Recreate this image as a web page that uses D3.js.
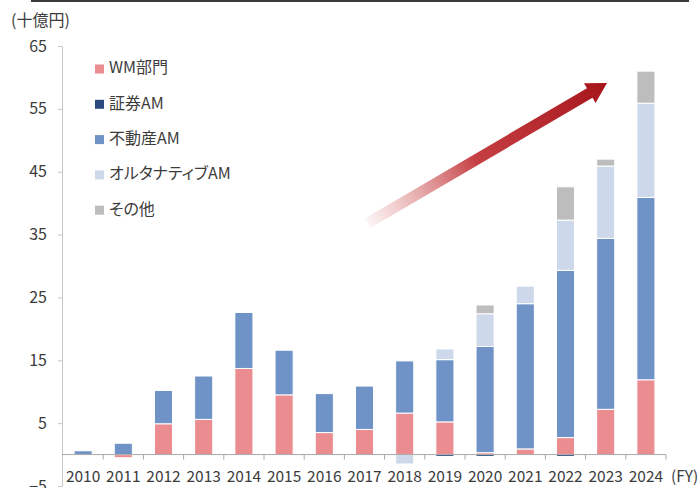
<!DOCTYPE html>
<html><head><meta charset="utf-8">
<script src="https://cdn.jsdelivr.net/npm/d3@7/dist/d3.min.js"></script>
<style>
html,body{margin:0;padding:0;background:#fff;}
svg{display:block;font-family:"Noto Sans CJK JP","Noto Sans",sans-serif;}
.palt{font-feature-settings:"palt" 1;}
</style></head>
<body><svg id="c" width="698" height="488"></svg>
<script>
const years = ["2010","2011","2012","2013","2014","2015","2016","2017","2018","2019","2020","2021","2022","2023","2024"];
const wm    = [0, -0.5, 4.9, 5.6, 13.7, 9.5, 3.5, 4.0, 6.6, 5.2, 0.3, 0.9, 2.7, 7.2, 11.9];
const sec   = [0, 0, 0, 0, 0, 0, 0, 0, 0, -0.3, -0.3, 0, -0.3, 0, 0];
const re    = [0.6, 1.8, 5.3, 6.9, 8.9, 7.1, 6.2, 6.9, 8.3, 9.9, 16.9, 23.1, 26.6, 27.2, 29.0];
const alt   = [0, 0, 0, 0, 0, 0, 0, 0, -1.5, 1.7, 5.2, 2.8, 8.0, 11.5, 15.0];
const other = [0, 0, 0, 0, 0, 0, 0, 0, 0, 0, 1.4, 0, 5.3, 1.1, 5.1];
const seriesNames = ["WM部門","証券AM","不動産AM","オルタナティブAM","その他"];
const yTicks = [-5, 5, 15, 25, 35, 45, 55, 65];
const colors = ["#ea8c90","#2b4a7f","#6f92c7","#cdd9ea","#bdbdbd"];

const seriesArrays = [wm, sec, re, alt, other];
const data = years.map((y,i)=>{
  const o = {year:y};
  seriesNames.forEach((k,j)=>o[k]=seriesArrays[j][i]);
  return o;
});

const svg = d3.select("#c");
const textCol = "#3c3c3c";

// top rule
svg.append("line").attr("x1",31).attr("x2",689).attr("y1",1).attr("y2",1)
  .attr("stroke","#3a3a3a").attr("stroke-width",2);

const x = d3.scaleBand().domain(years).range([63,666]).paddingInner(0.55).paddingOuter(0.275);
const y = d3.scaleLinear().domain([-5,65]).range([486,46]);

// y axis
const ya = svg.append("g").attr("transform","translate(62,0)")
  .call(d3.axisLeft(y).tickValues(yTicks).tickSize(4).tickPadding(11).tickSizeOuter(0));
ya.select(".domain").attr("stroke","#c6c6c6");
ya.selectAll(".tick line").attr("stroke","#c6c6c6");
ya.selectAll(".tick text").attr("fill",textCol).attr("font-size",16)
  .attr("font-family","'Noto Sans CJK JP','Noto Sans',sans-serif");

svg.append("text").attr("x",11).attr("y",22).attr("dominant-baseline","middle")
  .attr("fill",textCol).attr("font-size",16).text("(十億円)");

// bars
const stack = d3.stack().keys(seriesNames).offset(d3.stackOffsetDiverging);
const stacked = stack(data);
svg.append("g").selectAll("g").data(stacked).join("g")
  .attr("fill",(d,i)=>colors[i])
  .selectAll("rect").data(d=>d).join("rect")
  .attr("x",d=>x(d.data.year))
  .attr("width",x.bandwidth())
  .attr("y",d=>y(Math.max(d[0],d[1])))
  .attr("height",d=>Math.abs(y(d[0])-y(d[1])))
  .attr("stroke",d=>Math.abs(d[1]-d[0])>0?"#fff":"none")
  .attr("stroke-width",1);

// x axis
const y0 = y(0);
svg.append("line").attr("x1",62).attr("x2",666).attr("y1",y0).attr("y2",y0)
  .attr("stroke","#a8a8a8").attr("stroke-width",1);
const gap = x.step()-x.bandwidth();
const bounds = years.map(d=>x(d)-gap/2).concat([x(years[years.length-1])+x.bandwidth()+gap/2]);
svg.append("g").selectAll("line").data(bounds.slice(1)).join("line")
  .attr("x1",d=>d).attr("x2",d=>d).attr("y1",y0).attr("y2",y0+5)
  .attr("stroke","#a8a8a8");
svg.append("g").selectAll("text").data(years).join("text")
  .attr("x",d=>x(d)+x.bandwidth()/2).attr("y",478)
  .attr("text-anchor","middle").attr("dominant-baseline","middle")
  .attr("fill",textCol).attr("font-size",15.5).text(d=>d);
svg.append("text").attr("x",671).attr("y",478).attr("dominant-baseline","middle")
  .attr("fill",textCol).attr("font-size",15.5).text("(FY)");

// legend
const lg = svg.append("g").selectAll("g").data(seriesNames).join("g")
  .attr("transform",(d,i)=>`translate(95,${69+i*35.3})`);
lg.append("rect").attr("x",0).attr("y",-4.5).attr("width",9).attr("height",9)
  .attr("fill",(d,i)=>colors[i]);
lg.append("text").attr("class","palt").attr("x",14).attr("y",0).attr("dominant-baseline","middle")
  .attr("fill",textCol).attr("font-size",16).text(d=>d);

// arrow annotation
const tail=[368,223], tip=[607,83];
const dx=tip[0]-tail[0], dy=tip[1]-tail[1];
const L=Math.hypot(dx,dy), ang=Math.atan2(dy,dx)*180/Math.PI;
const defs = svg.append("defs");
const gr = defs.append("linearGradient").attr("id","ag").attr("gradientUnits","userSpaceOnUse")
  .attr("x1",0).attr("y1",0).attr("x2",L).attr("y2",0);
gr.append("stop").attr("offset",0).attr("stop-color","#d46a6a").attr("stop-opacity",0.08);
gr.append("stop").attr("offset",0.45).attr("stop-color","#bf2a2e").attr("stop-opacity",0.9);
gr.append("stop").attr("offset",1).attr("stop-color","#a5151a").attr("stop-opacity",1);
const hw=5.5, hh=11.5, hl=20;
svg.append("g").attr("transform",`translate(${tail[0]},${tail[1]}) rotate(${ang})`)
  .append("path")
  .attr("d",`M0,${-hw} L${L-hl},${-hw} L${L-hl},${-hh} L${L},0 L${L-hl},${hh} L${L-hl},${hw} L0,${hw} Z`)
  .attr("fill","url(#ag)");
</script></body></html>
